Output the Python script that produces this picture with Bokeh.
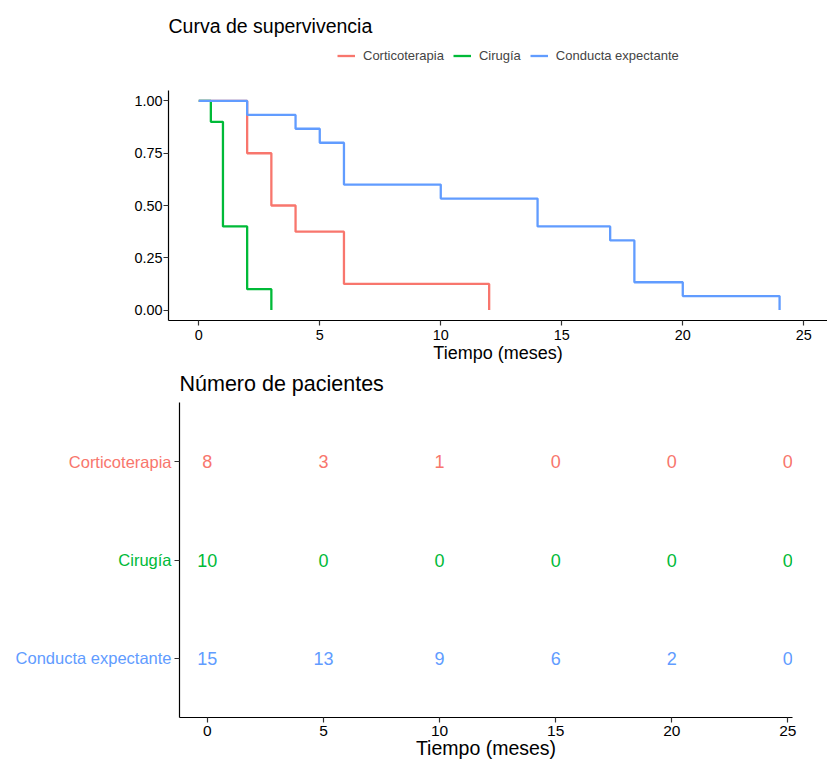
import math
from bokeh.plotting import figure
from bokeh.models import (Range1d, FixedTicker, NumeralTickFormatter, Legend, LegendItem,
                          Title, Label, ColumnDataSource)
from bokeh.layouts import column, row
from bokeh.embed import file_html
from bokeh.resources import INLINE
from bokeh.core.properties import value

# ---------------- data ----------------
groups = ["Corticoterapia", "Cirugía", "Conducta expectante"]
colors = ["#F8766D", "#00BA38", "#619CFF"]

time_cortico = [0, 2, 3, 4, 6, 12]
surv_cortico = [1.0, 0.75, 0.5, 0.375, 0.125, 0.0]
time_cirugia = [0, 0.5, 1, 2, 3]
surv_cirugia = [1.0, 0.9, 0.4, 0.1, 0.0]
time_conducta = [0, 2, 4, 5, 6, 10, 14, 17, 18, 20, 24]
surv_conducta = [1.0, 0.933, 0.867, 0.8, 0.6, 0.533, 0.4, 0.333, 0.133, 0.067, 0.0]

risk_times = [0, 5, 10, 15, 20, 25]
risk_cortico = [8, 3, 1, 0, 0, 0]
risk_cirugia = [10, 0, 0, 0, 0, 0]
risk_conducta = [15, 13, 9, 6, 2, 0]

x_ticks = [0, 5, 10, 15, 20, 25]
y_ticks = [0, 0.25, 0.5, 0.75, 1.0]
row_pos = [1, 2, 3]

FONT = "Liberation Sans"


def style_axis(ax, label_size, standoff, label_standoff):
    ax.axis_line_color = "black"
    ax.axis_line_width = 1.2
    ax.major_tick_line_color = "#333333"
    ax.major_tick_line_width = 1.2
    ax.major_tick_out = 5
    ax.major_tick_in = 0
    ax.minor_tick_line_color = None
    ax.major_label_text_font = FONT
    ax.major_label_text_font_size = label_size
    ax.major_label_text_color = "black"
    ax.major_label_standoff = standoff
    ax.axis_label_text_font = FONT
    ax.axis_label_text_font_style = "normal"
    ax.axis_label_text_color = "black"
    ax.axis_label_standoff = label_standoff


def clean(p):
    p.xgrid.visible = False
    p.ygrid.visible = False
    p.outline_line_color = None
    p.background_fill_color = "white"
    p.border_fill_color = "white"


# ---------------- header: title + legend ----------------
p_top = figure(width=827, height=90, output_backend="svg", toolbar_location=None,
               x_range=Range1d(0, 1), y_range=Range1d(0, 1),
               x_axis_type=None, y_axis_type=None,
               min_border_left=0, min_border_right=0, min_border_top=0,
               min_border_bottom=0, frame_align=False)
clean(p_top)
# legend keys only (no visible data points)
key_renderers = [p_top.line(x=[math.nan], y=[math.nan], line_color=c, line_width=2.3)
                 for c in colors]
legend = Legend(items=[LegendItem(label=g, renderers=[r]) for g, r in zip(groups, key_renderers)],
                location=(337, 27), orientation="horizontal",
                padding=0, margin=0, spacing=9, label_standoff=8,
                glyph_width=18, glyph_height=15, label_height=15,
                label_text_font=FONT, label_text_font_size="13px",
                border_line_color=None, background_fill_alpha=0)
p_top.add_layout(legend)
p_top.add_layout(Label(x=168, y=65, x_units="screen", y_units="screen",
                       text="Curva de supervivencia", text_font=FONT,
                       text_font_size="19.5px", text_baseline="alphabetic",
                       text_align="left", text_color="black"))

# ---------------- survival curves ----------------
p1 = figure(width=827, height=277, output_backend="svg", toolbar_location=None,
            x_range=Range1d(-1.25, 25.98), y_range=Range1d(-0.05, 1.05),
            min_border_left=168, min_border_right=0, min_border_top=0,
            min_border_bottom=47, frame_align=False)
clean(p1)

curves = [(time_cortico, surv_cortico), (time_cirugia, surv_cirugia),
          (time_conducta, surv_conducta)]
for (t, s), c in zip(curves, colors):
    p1.step(x=t, y=s, mode="after", line_color=c, line_width=2.3)

p1.xaxis.ticker = FixedTicker(ticks=x_ticks)
p1.yaxis.ticker = FixedTicker(ticks=y_ticks)
p1.yaxis.formatter = NumeralTickFormatter(format="0.00")
p1.xaxis.axis_label = "Tiempo (meses)"
style_axis(p1.xaxis[0], "14.4px", 4, 0)
style_axis(p1.yaxis[0], "14.4px", 1, 0)
p1.xaxis.axis_label_text_font_size = "18px"

# ---------------- risk table ----------------
p2 = figure(width=655, height=400, output_backend="svg", toolbar_location=None,
            x_range=Range1d(-1.2, 25.2), y_range=Range1d(3.6, 0.4),
            min_border_left=7, min_border_right=35, min_border_top=35,
            min_border_bottom=50, frame_align=False)
clean(p2)

risk_rows = [risk_cortico, risk_cirugia, risk_conducta]
xs, ys, txt, cols = [], [], [], []
for yv, row_vals, c in zip(row_pos, risk_rows, colors):
    for t, n in zip(risk_times, row_vals):
        xs.append(t)
        ys.append(yv)
        txt.append(str(n))
        cols.append(c)
src = ColumnDataSource(dict(x=xs, y=ys, text=txt, color=cols))
p2.text(x="x", y="y", text="text", text_color="color", source=src,
        text_align="center", text_baseline="middle",
        text_font=value(FONT), text_font_size="18px")

p2.xaxis.ticker = FixedTicker(ticks=x_ticks)
p2.yaxis.ticker = FixedTicker(ticks=row_pos)
p2.yaxis.major_label_overrides = {k: "" for k in row_pos}
p2.xaxis.axis_label = "Tiempo (meses)"
style_axis(p2.xaxis[0], "15.5px", 3, -2)
style_axis(p2.yaxis[0], "15.5px", 0, 0)
p2.xaxis.axis_label_text_font_size = "19.5px"

p2.title = Title(text="Número de pacientes", align="left", offset=0,
                 standoff=9, vertical_align="top",
                 text_font=FONT, text_font_size="21.5px",
                 text_font_style="normal", text_color="black")

# category names to the left of the table, sharing the table's y scale
p_lab = figure(width=172, height=400, output_backend="svg", toolbar_location=None,
               x_range=Range1d(0, 1), y_range=p2.y_range,
               x_axis_type=None, y_axis_type=None,
               min_border_left=0, min_border_right=0, min_border_top=35,
               min_border_bottom=50, frame_align=False)
clean(p_lab)
lab_src = ColumnDataSource(dict(x=[1] * len(groups), y=row_pos, name=groups, color=colors))
p_lab.text(x="x", y="y", text="name", text_color="color", source=lab_src,
           text_align="right", text_baseline="middle", x_offset=-1,
           text_font=value(FONT), text_font_size="16.5px")

layout = column(p_top, p1, row(p_lab, p2))
open("out.html", "w").write(file_html(layout, INLINE))
